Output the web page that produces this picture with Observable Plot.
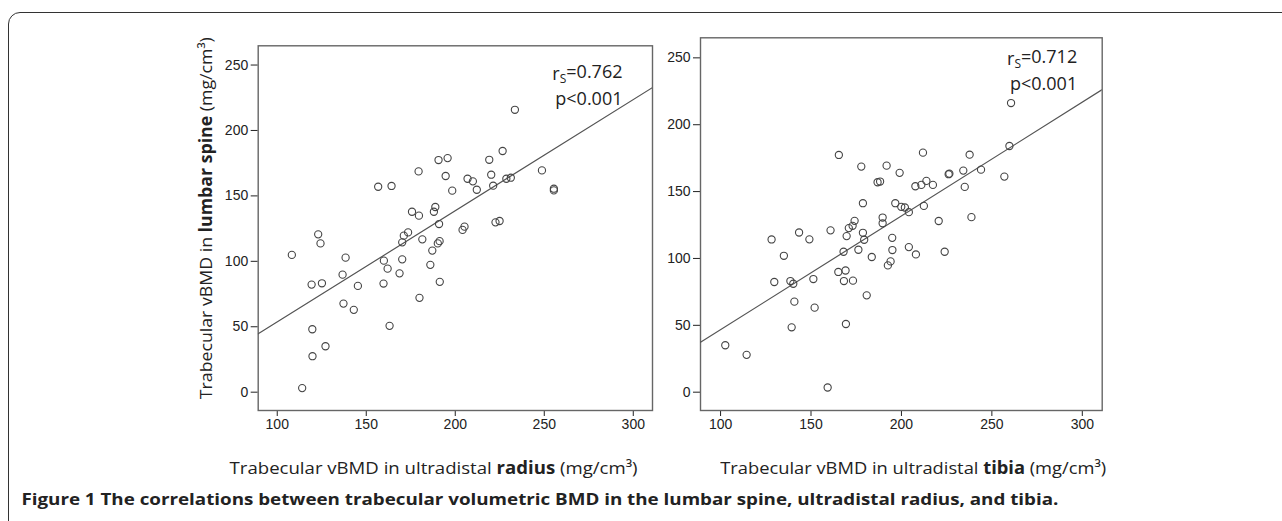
<!DOCTYPE html>
<html><head><meta charset="utf-8">
<script src="https://cdn.jsdelivr.net/npm/d3@7"></script>
<script src="https://cdn.jsdelivr.net/npm/@observablehq/plot@0.6"></script>
<style>
body{margin:0;background:#fff;}
#root{position:relative;width:1282px;height:521px;overflow:hidden;background:#fff;font-family:"Open Sans",sans-serif;color:#222;}
#box{position:absolute;left:8px;top:12px;width:1400px;height:700px;border:1.5px solid #333;border-radius:12px;}
.abs{position:absolute;white-space:nowrap;line-height:1.2;}
.panel{position:absolute;top:0;}
</style></head><body><div id="root"><div id="box"></div></div>
<script>
// ---- data ----
const radiusX = [108.2,114.0,119.3,119.7,119.8,123.0,124.3,125.1,127.1,136.7,137.2,138.4,143.0,145.3,156.7,159.7,159.9,162.0,163.1,164.2,168.7,170.2,170.2,171.1,173.5,175.7,179.6,179.4,179.9,181.5,186.0,187.1,188.0,188.8,190.2,191.2,190.9,191.3,190.6,194.6,195.7,198.3,204.1,205.2,206.9,209.9,212.1,219.1,220.2,221.3,222.6,224.9,226.6,228.7,231.2,233.5,248.7,255.4,255.4];
const spineVsRadius = [104.9,3.1,82.2,48.1,27.5,120.6,113.7,83.2,35.1,89.8,67.7,102.8,62.9,81.2,157.0,83.0,100.5,94.4,50.7,157.6,90.8,101.5,114.5,119.6,122.1,137.9,134.9,168.7,72.1,116.8,97.3,108.2,137.9,141.5,113.7,115.4,128.5,84.3,177.4,165.2,178.9,154.0,124.0,126.5,163.1,161.1,154.7,177.6,166.2,157.8,129.8,130.8,184.3,163.1,163.9,215.8,169.5,154.2,155.5];
const tibiaX = [102.6,114.4,128.2,129.7,135.0,138.6,139.3,140.2,140.8,143.4,149.1,151.3,152.0,159.2,160.8,165.1,165.4,168.0,168.2,169.1,169.3,169.7,170.9,173.0,173.2,174.1,176.2,177.8,178.7,178.7,179.4,180.8,183.6,186.8,188.2,189.6,189.6,191.8,192.5,194.0,194.9,195.0,196.6,199.0,199.9,201.9,204.1,204.1,207.7,208.0,211.0,211.9,212.4,213.8,217.4,220.6,223.9,226.1,226.5,234.2,235.0,237.7,238.7,244.0,256.9,259.7,260.6];
const spineVsTibia = [35.1,27.9,114.2,82.4,102.0,83.1,48.5,81.1,67.7,119.4,114.3,84.6,63.2,3.5,121.0,89.9,177.4,105.0,83.1,91.0,51.0,116.7,122.7,124.4,83.4,128.1,106.5,168.7,141.3,119.2,114.0,72.4,101.1,157.0,157.5,130.6,126.3,169.4,94.8,97.8,115.4,106.3,141.3,164.0,138.6,138.1,134.6,108.5,154.0,103.0,155.0,179.1,139.3,158.0,155.0,128.0,105.0,163.0,163.4,165.7,153.5,177.6,130.9,166.4,161.2,184.1,216.2];
const xTicks = [100, 150, 200, 250, 300];
const yTicks = [0, 50, 100, 150, 200, 250];
const fitRadius = [-31.3, 0.8497];   // intercept, slope
const fitTibia = [-38.4, 0.851];
const statsRadius = ["rS=0.762", "p<0.001"];
const statsTibia = ["rS=0.712", "p<0.001"];
const yLabelParts = ["Trabecular vBMD in ", "lumbar spine", " (mg/cm³)"];
const xLabelRadius = ["Trabecular vBMD in ultradistal ", "radius", " (mg/cm³)"];
const xLabelTibia = ["Trabecular vBMD in ultradistal ", "tibia", " (mg/cm³)"];
const captionParts = ["Figure 1", " The correlations between trabecular volumetric BMD in the lumbar spine, ultradistal radius, and tibia."];

const root = document.getElementById("root");

function panel(cfg) {
  const data = cfg.xs.map((x, i) => ({x, y: cfg.ys[i]}));
  const [b0, b1] = cfg.fit;
  const fitLine = cfg.xDomain.map(x => ({x, y: b0 + b1 * x}));
  const svg = Plot.plot({
    width: cfg.width, height: cfg.height,
    marginTop: cfg.mt, marginBottom: cfg.mb, marginLeft: cfg.ml, marginRight: cfg.mr,
    style: {fontFamily: "'Liberation Sans', Arial, sans-serif", fontSize: "14px", color: "#222", background: "transparent", overflow: "visible"},
    x: {domain: cfg.xDomain, ticks: xTicks, tickSize: 6, tickPadding: 3, label: null},
    y: {domain: cfg.yDomain, ticks: yTicks, tickSize: 7, tickPadding: 3, label: null},
    marks: [
      Plot.frame({stroke: "#666", strokeWidth: 1.4}),
      Plot.line(fitLine, {x: "x", y: "y", stroke: "#555", strokeWidth: 1.2, clip: true}),
      Plot.dot(data, {x: "x", y: "y", r: 3.6, stroke: "#444", strokeWidth: 1.1, fill: "none"}),
      Plot.text([cfg.stats[0]], {frameAnchor: "top-right", textAnchor: "end", lineAnchor: "middle", dx: cfg.sdx, dy: cfg.sdy, fontSize: 18, fontFamily: "'Open Sans', sans-serif", fill: "#222"}),
      Plot.text([cfg.stats[1]], {frameAnchor: "top-right", textAnchor: "end", lineAnchor: "middle", dx: cfg.sdx, dy: cfg.sdy + cfg.gap, fontSize: 18, fontFamily: "'Open Sans', sans-serif", fill: "#222"})
    ]
  });
  svg.classList.add("panel");
  svg.style.left = cfg.left + "px";
  root.appendChild(svg);
  d3.select(svg).selectAll("text").each(function () {
    const t = this.textContent;
    if (t.startsWith("rS=")) {
      const el = d3.select(this);
      el.text(null);
      el.append("tspan").text("r");
      el.append("tspan").attr("font-size", "12").attr("dy", "0.3em").text("S");
      el.append("tspan").attr("dy", "-0.3em").text(t.slice(2));
    }
  });
}

panel({xs: radiusX, ys: spineVsRadius, fit: fitRadius, stats: statsRadius,
  xDomain: [89.3, 310.8], yDomain: [-14.0, 264.7],
  left: 150, width: 510, height: 440, mt: 45.3, mb: 30, ml: 107.7, mr: 8,
  sdx: -30, sdy: 28, gap: 25});
panel({xs: tibiaX, ys: spineVsTibia, fit: fitTibia, stats: statsTibia,
  xDomain: [88.9, 311], yDomain: [-13.7, 265.0],
  left: 655, width: 460, height: 440, mt: 37.3, mb: 30, ml: 45, mr: 13.3,
  sdx: -25, sdy: 21, gap: 25});

function label(parts, opts) {
  const d = document.createElement("div");
  d.className = "abs";
  d.style.fontSize = opts.size + "px";
  if (opts.allBold) d.style.fontWeight = "bold";
  parts.forEach((p, i) => {
    const s = document.createElement(i === opts.boldIndex ? "b" : "span");
    s.textContent = p;
    d.appendChild(s);
  });
  root.appendChild(d);
  const r = d.getBoundingClientRect();
  const k = opts.length / r.width;
  d.style.transformOrigin = "center center";
  d.style.left = (opts.cx - r.width / 2) + "px";
  d.style.top = (opts.cy - r.height / 2) + "px";
  d.style.transform = (opts.rotate ? "rotate(-90deg) " : "") + `scaleX(${k})`;
}

label(yLabelParts, {size: 17, boldIndex: 1, length: 362, cx: 207, cy: 218, rotate: true});
label(xLabelRadius, {size: 17, boldIndex: 1, length: 408, cx: 434, cy: 468});
label(xLabelTibia, {size: 17, boldIndex: 1, length: 386, cx: 913, cy: 468});
label(captionParts, {size: 16, allBold: true, boldIndex: -1, length: 1037, cx: 539.5, cy: 500});
</script></body></html>
